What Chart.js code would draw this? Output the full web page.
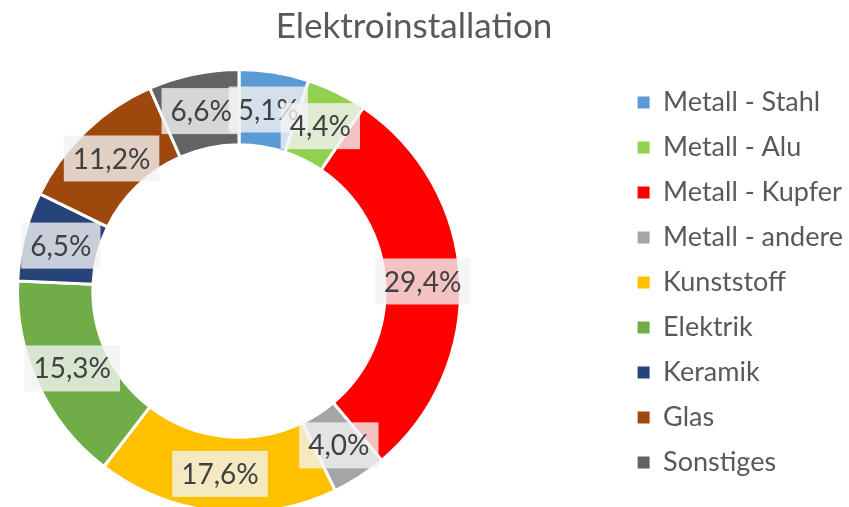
<!DOCTYPE html>
<html lang="de">
<head>
<meta charset="utf-8">
<title>Elektroinstallation</title>
<script src="https://cdn.jsdelivr.net/npm/chart.js@4.4.0/dist/chart.umd.min.js"></script>
<style>
  html, body { margin: 0; padding: 0; background: #fff; }
  #wrap { position: relative; width: 849px; height: 507px; overflow: hidden; }
</style>
</head>
<body>
<div id="wrap"><canvas id="chart"></canvas></div>
<script>
// Materialanteile Elektroinstallation (in %)
const categories = [
    'Metall - Stahl',
    'Metall - Alu',
    'Metall - Kupfer',
    'Metall - andere',
    'Kunststoff',
    'Elektrik',
    'Keramik',
    'Glas',
    'Sonstiges'
];
const shares = [5.1, 4.4, 29.4, 4.0, 17.6, 15.3, 6.5, 11.2, 6.6];

const sliceColors = [
    '#5B9BD5', // Stahl
    '#92D050', // Alu
    '#FF0000', // Kupfer
    '#A5A5A5', // andere
    '#FFC000', // Kunststoff
    '#70AD47', // Elektrik
    '#264478', // Keramik
    '#9E480E', // Glas
    '#636363'  // Sonstiges
];

const FONT = 'Lato, "Open Sans", sans-serif';

function formatShare(v) {
    return v.toFixed(1).replace('.', ',') + '%';
}

// Place the ring like the Excel plot area (left of the legend)
const plotArea = {
    id: 'plotArea',
    afterLayout(chart) {
        const cx = 239, cy = 291, size = 446;
        const a = chart.chartArea;
        a.left = cx - size / 2;
        a.right = cx + size / 2;
        a.top = cy - size / 2;
        a.bottom = cy + size / 2;
        a.width = size;
        a.height = size;
        if (chart.titleBlock) {
            chart.titleBlock.left = 0;
            chart.titleBlock.right = 828;
        }
    }
};

// Percentage labels with light boxes in the middle of each slice
const sliceLabels = {
    id: 'sliceLabels',
    afterDatasetsDraw(chart) {
        const ctx = chart.ctx;
        const meta = chart.getDatasetMeta(0);
        ctx.save();
        ctx.font = '28px ' + FONT;
        ctx.textAlign = 'center';
        ctx.textBaseline = 'middle';
        meta.data.forEach((arc, i) => {
            const pos = arc.tooltipPosition();
            const text = formatShare(shares[i]);
            const w = ctx.measureText(text).width + 18;
            const h = 46;
            ctx.fillStyle = 'rgba(242, 242, 242, 0.8)';
            ctx.fillRect(pos.x - w / 2, pos.y - h / 2, w, h);
            ctx.fillStyle = '#404040';
            ctx.fillText(text, pos.x, pos.y + 1);
        });
        ctx.restore();
    }
};

const ctx = document.getElementById('chart').getContext('2d');

new Chart(ctx, {
    type: 'doughnut',
    data: {
        labels: categories,
        datasets: [{
            data: shares,
            backgroundColor: sliceColors,
            borderColor: '#ffffff',
            borderWidth: 3,
            hoverOffset: 0
        }]
    },
    options: {
        responsive: true,
        maintainAspectRatio: false,
        animation: false,
        cutout: '66%',
        layout: {
            padding: { right: -4 }
        },
        plugins: {
            title: {
                display: true,
                text: 'Elektroinstallation',
                color: '#595959',
                font: {
                    family: FONT,
                    size: 35,
                    weight: 'normal'
                },
                padding: {
                    top: 6,
                    bottom: 10
                }
            },
            legend: {
                position: 'right',
                fullSize: false,
                labels: {
                    color: '#595959',
                    boxWidth: 12,
                    boxHeight: 12,
                    padding: 18,
                    font: {
                        family: FONT,
                        size: 27
                    },
                    generateLabels: function(chart) {
                        const base = Chart.overrides.doughnut.plugins.legend.labels.generateLabels(chart);
                        return base.map(item => Object.assign(item, { lineWidth: 0, strokeStyle: item.fillStyle }));
                    }
                }
            },
            tooltip: {
                enabled: false
            }
        }
    },
    plugins: [plotArea, sliceLabels]
});
</script>
</body>
</html>
